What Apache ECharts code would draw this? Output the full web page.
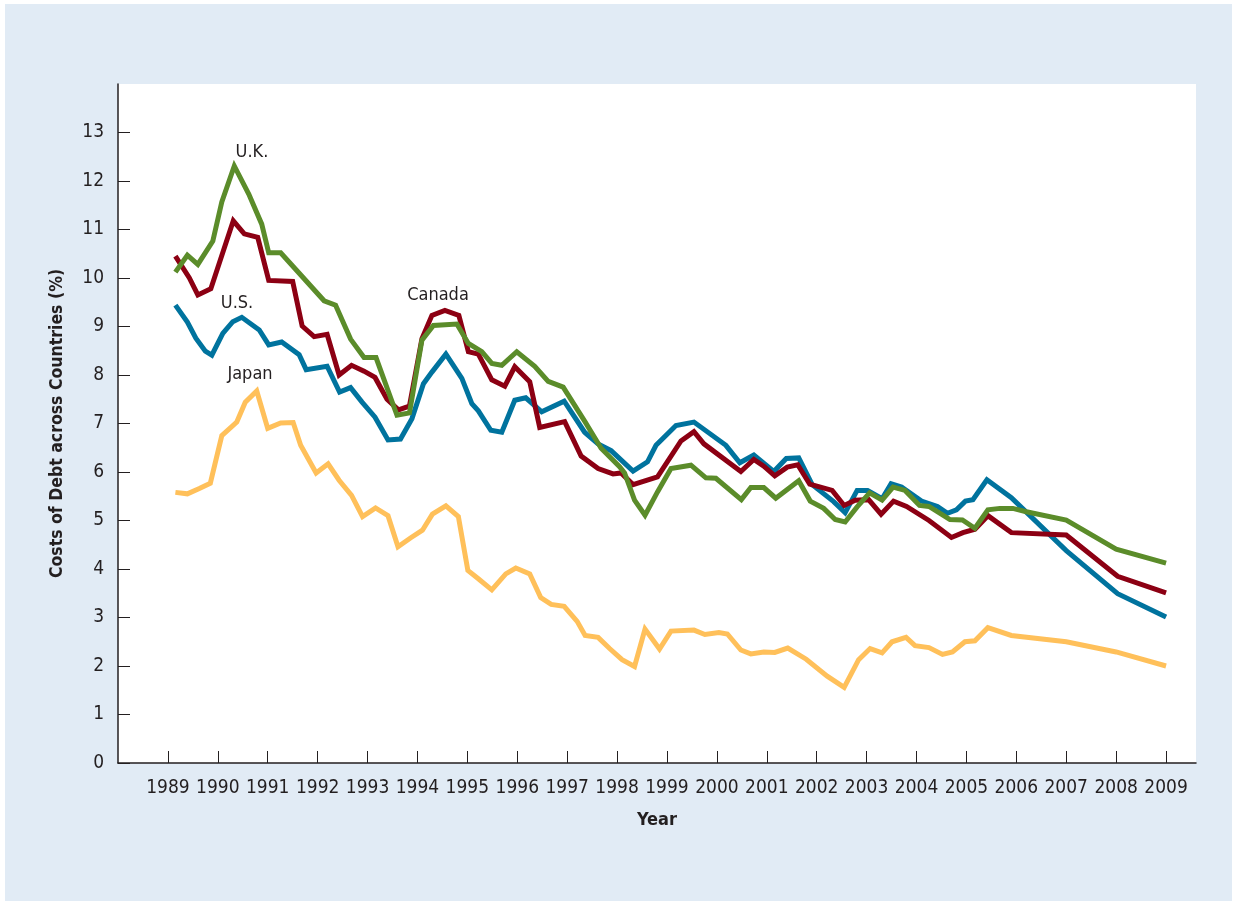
<!DOCTYPE html>
<html>
<head>
<meta charset="utf-8">
<script src="https://cdn.jsdelivr.net/npm/echarts@6/dist/echarts.min.js"></script>
<style>
  html, body { margin: 0; padding: 0; background: #ffffff; }
  #chart { width: 1237px; height: 901px; }
</style>
</head>
<body>
<div id="chart"></div>
<script>
// ---- Data ----
const tickYears = [1989,1990,1991,1992,1993,1994,1995,1996,1997,1998,1999,2000,2001,2002,2003,2004,2005,2006,2007,2008,2009];
const yTicks = [0,1,2,3,4,5,6,7,8,9,10,11,12,13];

const ukYears = [1989.15,1989.39,1989.60,1989.90,1990.08,1990.33,1990.62,1990.88,1991.02,1991.26,1992.13,1992.36,1992.66,1992.93,1993.17,1993.59,1993.84,1994.09,1994.32,1994.79,1995.02,1995.29,1995.49,1995.69,1995.99,1996.35,1996.62,1996.92,1997.35,1997.68,1998.05,1998.15,1998.35,1998.56,1998.81,1999.08,1999.48,1999.78,1999.98,2000.49,2000.68,2000.94,2001.18,2001.64,2001.87,2002.14,2002.37,2002.57,2002.81,2003.06,2003.31,2003.53,2003.77,2004.06,2004.25,2004.67,2004.92,2005.17,2005.43,2005.67,2005.93,2006.20,2007.00,2008.00,2009.00];
const ukValues = [10.12,10.47,10.28,10.76,11.57,12.31,11.73,11.11,10.52,10.52,9.53,9.44,8.74,8.36,8.36,7.17,7.22,8.72,9.02,9.05,8.65,8.48,8.24,8.20,8.48,8.18,7.87,7.75,7.05,6.49,6.11,5.98,5.42,5.11,5.59,6.07,6.14,5.88,5.87,5.43,5.68,5.68,5.46,5.82,5.40,5.25,5.02,4.97,5.28,5.57,5.42,5.69,5.62,5.31,5.29,5.02,5.01,4.84,5.22,5.25,5.25,5.18,5.01,4.41,4.12];

const canadaYears = [1989.15,1989.43,1989.60,1989.86,1990.31,1990.53,1990.80,1991.02,1991.50,1991.69,1991.93,1992.19,1992.43,1992.68,1992.93,1993.15,1993.39,1993.62,1993.84,1994.09,1994.29,1994.55,1994.83,1995.02,1995.22,1995.49,1995.75,1995.95,1996.25,1996.45,1996.95,1997.28,1997.62,1997.92,1998.08,1998.32,1998.81,1999.28,1999.54,1999.74,2000.48,2000.74,2000.94,2001.16,2001.41,2001.62,2001.86,2002.31,2002.55,2002.77,2003.04,2003.29,2003.54,2003.80,2004.25,2004.70,2004.93,2005.17,2005.43,2005.90,2007.00,2008.03,2009.00];
const canadaValues = [10.45,10.00,9.65,9.78,11.18,10.91,10.84,9.95,9.93,9.01,8.79,8.84,8.00,8.20,8.08,7.95,7.50,7.28,7.36,8.75,9.23,9.33,9.23,8.48,8.43,7.90,7.77,8.17,7.86,6.92,7.04,6.33,6.07,5.96,5.98,5.74,5.90,6.64,6.83,6.58,6.01,6.26,6.12,5.92,6.10,6.15,5.75,5.62,5.31,5.42,5.43,5.13,5.40,5.29,5.00,4.65,4.75,4.82,5.10,4.75,4.70,3.85,3.51];

const usYears = [1989.15,1989.39,1989.56,1989.75,1989.88,1990.10,1990.30,1990.48,1990.83,1991.02,1991.28,1991.63,1991.77,1992.19,1992.44,1992.66,1992.89,1993.15,1993.41,1993.66,1993.89,1994.12,1994.29,1994.57,1994.89,1995.09,1995.22,1995.47,1995.69,1995.95,1996.17,1996.49,1996.94,1997.35,1997.62,1997.88,1998.32,1998.61,1998.78,1999.18,1999.54,2000.18,2000.46,2000.74,2001.14,2001.39,2001.64,2001.91,2002.34,2002.57,2002.81,2003.02,2003.31,2003.49,2003.70,2004.10,2004.42,2004.62,2004.80,2004.98,2005.13,2005.41,2005.90,2007.00,2008.03,2009.00];
const usValues = [9.44,9.09,8.76,8.49,8.41,8.86,9.10,9.19,8.93,8.62,8.68,8.42,8.11,8.18,7.65,7.74,7.44,7.13,6.66,6.68,7.10,7.82,8.06,8.43,7.93,7.41,7.26,6.86,6.82,7.48,7.53,7.24,7.46,6.82,6.58,6.44,6.02,6.21,6.55,6.96,7.03,6.55,6.19,6.35,6.01,6.28,6.29,5.74,5.39,5.16,5.62,5.62,5.45,5.76,5.69,5.40,5.29,5.15,5.22,5.40,5.43,5.84,5.47,4.38,3.49,3.01];

const japanYears = [1989.15,1989.39,1989.63,1989.85,1990.08,1990.38,1990.55,1990.78,1991.00,1991.26,1991.51,1991.66,1991.97,1992.21,1992.43,1992.68,1992.90,1993.16,1993.41,1993.61,1993.86,1994.10,1994.30,1994.57,1994.82,1995.01,1995.22,1995.49,1995.77,1995.97,1996.25,1996.47,1996.68,1996.94,1997.20,1997.36,1997.62,1997.85,1998.10,1998.35,1998.56,1998.85,1999.08,1999.54,1999.76,2000.04,2000.21,2000.48,2000.68,2000.94,2001.16,2001.42,2001.79,2002.21,2002.55,2002.84,2003.07,2003.31,2003.51,2003.79,2003.97,2004.25,2004.52,2004.72,2004.97,2005.17,2005.43,2005.90,2007.00,2008.00,2009.00];
const japanValues = [5.58,5.55,5.66,5.77,6.75,7.03,7.44,7.67,6.90,7.01,7.02,6.55,5.98,6.17,5.83,5.52,5.08,5.26,5.10,4.46,4.64,4.80,5.13,5.30,5.08,3.97,3.80,3.57,3.90,4.02,3.90,3.41,3.27,3.23,2.92,2.63,2.59,2.36,2.13,1.99,2.76,2.35,2.72,2.74,2.65,2.69,2.66,2.33,2.25,2.29,2.28,2.37,2.14,1.79,1.56,2.13,2.36,2.27,2.50,2.59,2.42,2.38,2.24,2.29,2.50,2.52,2.79,2.63,2.50,2.29,2.00];

const seriesNames = ['Japan', 'U.S.', 'Canada', 'U.K.'];

// ---- Build ----
function pairs(xs, ys) { return xs.map((x, i) => [x, ys[i]]); }

const FONT = '"Liberation Sans Narrow", "DejaVu Sans Condensed", "Liberation Sans", sans-serif';
const INK = '#231f20';

const chart = echarts.init(document.getElementById('chart'), null, { renderer: 'canvas' });

function lineSeries(name, xs, ys, color) {
  return {
    name: name,
    type: 'line',
    data: pairs(xs, ys),
    showSymbol: false,
    symbol: 'none',
    lineStyle: { color: color, width: 5, join: 'miter', cap: 'butt' },
    itemStyle: { color: color },
    animation: false
  };
}

chart.setOption({
  animation: false,
  backgroundColor: '#ffffff',
  graphic: [
    { type: 'rect', z: -10, silent: true, shape: { x: 5, y: 4, width: 1227, height: 897 }, style: { fill: '#e1ebf5' } },
    { type: 'text', z: 100, style: { text: 'U.K.', x: 252, y: 152, align: 'center', verticalAlign: 'middle', font: '18px ' + FONT, fill: INK } },
    { type: 'text', z: 100, style: { text: 'Canada', x: 438, y: 295, align: 'center', verticalAlign: 'middle', font: '18px ' + FONT, fill: INK } },
    { type: 'text', z: 100, style: { text: 'U.S.', x: 237, y: 303, align: 'center', verticalAlign: 'middle', font: '18px ' + FONT, fill: INK } },
    { type: 'text', z: 100, style: { text: 'Japan', x: 250, y: 374, align: 'center', verticalAlign: 'middle', font: '18px ' + FONT, fill: INK } }
  ],
  grid: {
    left: 118, right: 41, top: 84, bottom: 138,
    show: true, backgroundColor: '#ffffff', borderWidth: 0
  },
  xAxis: {
    type: 'value',
    min: 1988,
    max: 2009.6,
    name: 'Year',
    nameLocation: 'middle',
    nameGap: 48,
    nameTextStyle: { fontFamily: FONT, fontSize: 18, fontWeight: 'bold', color: INK },
    axisLine: { show: true, onZero: false, lineStyle: { color: INK, width: 1.5 } },
    axisTick: { show: true, inside: true, length: 12, customValues: tickYears, lineStyle: { color: INK, width: 1 } },
    axisLabel: { show: true, customValues: tickYears, margin: 16, fontFamily: FONT, fontSize: 19, color: INK, formatter: v => String(Math.round(v)) },
    splitLine: { show: false }
  },
  yAxis: {
    type: 'value',
    min: 0,
    max: 14,
    interval: 1,
    name: 'Costs of Debt across Countries (%)',
    nameLocation: 'middle',
    nameGap: 52,
    nameTextStyle: { fontFamily: FONT, fontSize: 17.5, fontWeight: 'bold', color: INK },
    axisLine: { show: true, lineStyle: { color: INK, width: 1.5 } },
    axisTick: { show: true, inside: true, length: 12, customValues: yTicks, lineStyle: { color: INK, width: 1 } },
    axisLabel: { show: true, customValues: yTicks, margin: 14, fontFamily: FONT, fontSize: 19, color: INK },
    splitLine: { show: false }
  },
  series: [
    lineSeries(seriesNames[0], japanYears, japanValues, '#ffc05a'),
    lineSeries(seriesNames[1], usYears, usValues, '#00739e'),
    lineSeries(seriesNames[2], canadaYears, canadaValues, '#8c0013'),
    lineSeries(seriesNames[3], ukYears, ukValues, '#5b8c2a')
  ]
});
</script>
</body>
</html>
